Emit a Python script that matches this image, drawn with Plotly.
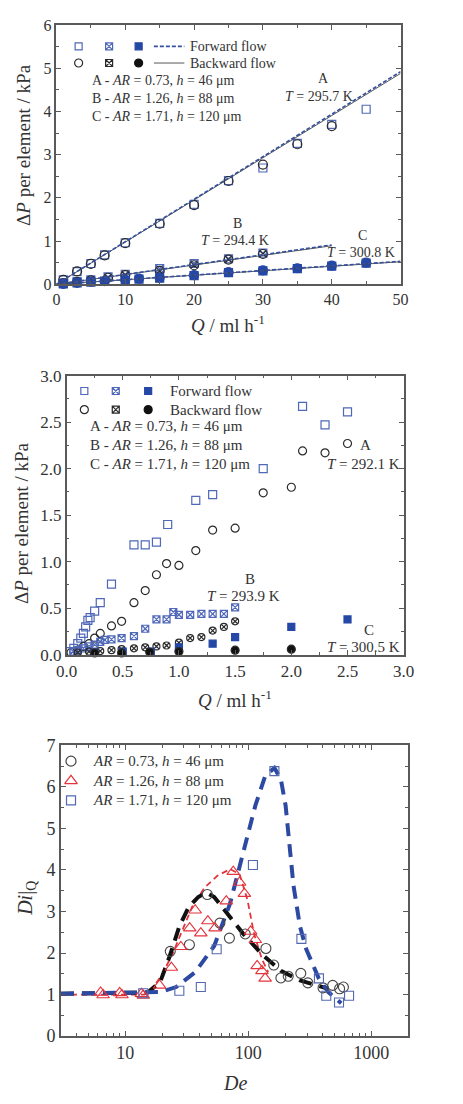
import math
import plotly.graph_objects as go

# ---------------- Panel 1 data ----------------
p1_A_q_fwd = [1, 3, 5, 7, 10, 15, 20, 25, 30, 35, 40, 45]
p1_A_fwd = [0.10, 0.29, 0.48, 0.68, 0.96, 1.41, 1.85, 2.40, 2.69, 3.26, 3.70, 4.05]
p1_A_q_bwd = [1, 3, 5, 7, 10, 15, 20, 25, 30, 35, 40]
p1_A_bwd = [0.10, 0.30, 0.47, 0.67, 0.95, 1.40, 1.83, 2.39, 2.77, 3.24, 3.66]
p1_B_q = [1, 3, 5, 7.5, 10, 15, 20, 25, 30]
p1_B_fwd = [0.03, 0.06, 0.10, 0.17, 0.23, 0.36, 0.48, 0.59, 0.72]
p1_B_bwd = [0.02, 0.05, 0.09, 0.15, 0.21, 0.31, 0.44, 0.57, 0.70]
p1_C_q = [1, 3, 5, 7, 10, 12, 15, 20, 25, 30, 35, 40, 45]
p1_C_fwd = [0.01, 0.03, 0.05, 0.07, 0.09, 0.12, 0.14, 0.20, 0.27, 0.31, 0.36, 0.42, 0.49]
p1_C_bwd = [0.01, 0.03, 0.06, 0.07, 0.10, 0.13, 0.15, 0.21, 0.28, 0.32, 0.37, 0.43, 0.50]
# linear fits
p1_fitA_q = [0, 50]
p1_fitA_fwd = [0.0, 4.92]
p1_fitA_bwd = [0.0, 4.88]
p1_fitB_q = [0, 40]
p1_fitB_fwd = [0.0, 0.91]
p1_fitB_bwd = [0.0, 0.89]
p1_fitC_q = [0, 50]
p1_fitC_fwd = [0.0, 0.53]
p1_fitC_bwd = [0.0, 0.52]

# ---------------- Panel 2 data ----------------
p2_A_q_fwd = [0.03, 0.065, 0.10, 0.127, 0.15, 0.17, 0.19, 0.21, 0.25, 0.30, 0.40, 0.60, 0.70,
              0.80, 0.90, 1.15, 1.30, 1.75, 2.10, 2.30, 2.50]
p2_A_fwd = [0.035, 0.07, 0.12, 0.18, 0.23, 0.30, 0.37, 0.40, 0.47, 0.56, 0.76, 1.18, 1.18,
            1.21, 1.40, 1.66, 1.72, 2.00, 2.67, 2.47, 2.61]
p2_A_q_bwd = [0.04, 0.10, 0.15, 0.20, 0.25, 0.30, 0.40, 0.49, 0.60, 0.70, 0.80, 0.89, 1.00,
              1.15, 1.30, 1.50, 1.75, 2.00, 2.10, 2.30, 2.50]
p2_A_bwd = [0.025, 0.05, 0.09, 0.12, 0.18, 0.23, 0.31, 0.36, 0.56, 0.69, 0.86, 0.98, 0.96,
            1.12, 1.34, 1.36, 1.74, 1.80, 2.19, 2.17, 2.27]
p2_B_q_fwd = [0.06, 0.10, 0.15, 0.20, 0.25, 0.30, 0.34, 0.40, 0.49, 0.60, 0.70, 0.80, 0.89,
              0.95, 1.00, 1.10, 1.20, 1.30, 1.40, 1.50]
p2_B_fwd = [0.035, 0.05, 0.07, 0.09, 0.11, 0.14, 0.16, 0.165, 0.18, 0.20, 0.28, 0.38, 0.38,
            0.46, 0.43, 0.43, 0.44, 0.44, 0.44, 0.51]
p2_B_q_bwd = [0.10, 0.20, 0.30, 0.40, 0.49, 0.60, 0.70, 0.80, 0.89, 1.00, 1.10, 1.20, 1.30, 1.40, 1.50]
p2_B_bwd = [0.025, 0.035, 0.04, 0.05, 0.06, 0.07, 0.08, 0.09, 0.10, 0.13, 0.18, 0.19, 0.26, 0.30, 0.36]
p2_C_q_fwd = [0.25, 0.50, 0.75, 1.00, 1.30, 1.50, 2.00, 2.50]
p2_C_fwd = [0.025, 0.035, 0.035, 0.08, 0.12, 0.19, 0.30, 0.38]
p2_C_q_bwd = [0.25, 0.49, 0.74, 1.00, 1.50, 2.00]
p2_C_bwd = [0.02, 0.02, 0.03, 0.035, 0.05, 0.06]

# ---------------- Panel 3 data ----------------
p3_circ_de = [23.2, 33.2, 46.4, 58.7, 70.2, 94.4, 139, 161, 184, 211, 267, 305, 405, 485, 552, 593]
p3_circ_di = [2.04, 2.20, 3.41, 2.72, 2.36, 2.46, 2.11, 1.71, 1.40, 1.44, 1.51, 1.28, 1.16, 1.22, 1.14, 1.18]
p3_tri_de = [6.3, 6.6, 9.0, 9.4, 13.5, 14.0, 19.0, 23.7, 28.3, 33.4, 37.0, 41.1, 46.9, 53.7,
             66.2, 75.4, 84.9, 92.9, 104.5, 114, 118, 129, 137]
p3_tri_di = [1.05, 0.99, 1.04, 0.99, 1.02, 0.98, 1.22, 1.65, 2.15, 2.60, 3.03, 2.48, 2.77, 2.60,
             3.25, 3.96, 3.70, 3.43, 2.52, 2.32, 1.69, 1.57, 1.39]
p3_sq_de = [14.0, 27.5, 41.1, 55.3, 109, 163, 270, 375, 430, 546, 659]
p3_sq_di = [1.03, 1.09, 1.18, 2.09, 4.12, 6.38, 2.34, 1.39, 0.97, 0.81, 0.97]
# fitted curves
p3_fit_black_de = [3, 15.2, 19.2, 23, 27.5, 32.8, 39.2, 45.5, 52.8, 67, 90, 129, 184, 263, 353, 447]
p3_fit_black_di = [1.02, 1.05, 1.30, 1.93, 2.64, 3.11, 3.35, 3.46, 3.35, 2.95, 2.48, 1.97, 1.57, 1.34, 1.22, 1.14]
p3_fit_red_de = [3, 14.3, 17, 20.4, 24.4, 29.2, 34.9, 44.2, 56, 71, 85, 98.6, 111, 129, 145]
p3_fit_red_di = [1.0, 1.0, 1.18, 1.54, 2.0, 2.56, 3.11, 3.58, 3.86, 4.02, 3.90, 3.27, 2.48, 1.85, 1.54]
p3_fit_blue_de = [3, 19.2, 25.9, 37, 52.8, 71, 90, 114, 137, 163, 184, 201, 233, 263, 296, 375, 447, 569]
p3_fit_blue_di = [1.02, 1.06, 1.18, 1.54, 2.17, 3.19, 4.37, 5.55, 6.26, 6.46, 6.18, 5.55, 3.62, 2.64, 2.09, 1.38, 1.06, 0.79]

# ---------------- Layout geometry ----------------
W, H = 463, 1104
P1 = (47.7, 409.0, 15.3, 279.3)     # left, right, top, bottom (px)
P2 = (58.3, 412.3, 372.3, 656.7)
P3 = (52.3, 416.3, 749.0, 1045.0)
R1 = ([0, 50], [0, 6])
R2 = ([0, 3], [0, 3])
R3 = ([0.476, 3.294], [0, 7])

SERIF = "Liberation Serif, Times New Roman, DejaVu Serif, serif"
TXT = "#333333"
AX = "#5a5a5a"
BLUE_OPEN = "#4f68b8"
BLUE_FILL = "#2547a5"
BLACK = "#2a2a2a"


def dom(p):
    return [p[0] / W, p[1] / W], [1 - p[3] / H, 1 - p[2] / H]


def to_data(p, r, x, y, logx=False):
    fx = (x - p[0]) / (p[1] - p[0])
    fy = (p[3] - y) / (p[3] - p[2])
    dx = r[0][0] + fx * (r[0][1] - r[0][0])
    dy = r[1][0] + fy * (r[1][1] - r[1][0])
    if logx:
        dx = 10 ** dx
    return dx, dy


fig = go.Figure()

def sc(x, y, ax, sym, color, size, fill=None, lw=1.2):
    fig.add_trace(go.Scatter(
        x=x, y=y, mode="markers", xaxis="x" + ax, yaxis="y" + ax, showlegend=False,
        cliponaxis=False,
        marker=dict(symbol=sym, size=size, color=fill if fill else color,
                    line=dict(color=color, width=lw))))

def ln(x, y, ax, color, width, dash):
    fig.add_trace(go.Scatter(
        x=x, y=y, mode="lines", xaxis="x" + ax, yaxis="y" + ax, showlegend=False,
        line=dict(color=color, width=width, dash=dash)))

# ---- panel 1 ----
sc(p1_A_q_fwd, p1_A_fwd, "", "square-open", BLUE_OPEN, 8)
sc(p1_A_q_bwd, p1_A_bwd, "", "circle-open", BLACK, 9)
sc(p1_B_q, p1_B_fwd, "", "square-x-open", BLUE_OPEN, 8)
sc(p1_B_q, p1_B_bwd, "", "circle-x-open", BLACK, 9)
sc(p1_C_q, p1_C_fwd, "", "square", BLUE_FILL, 8, fill=BLUE_FILL)
sc(p1_C_q, p1_C_bwd, "", "circle", BLUE_FILL, 9, fill=BLUE_FILL)
for qq, fw, bw in [(p1_fitA_q, p1_fitA_fwd, p1_fitA_bwd),
                   (p1_fitB_q, p1_fitB_fwd, p1_fitB_bwd),
                   (p1_fitC_q, p1_fitC_fwd, p1_fitC_bwd)]:
    ln(qq, bw, "", "#444444", 0.9, "solid")
    ln(qq, fw, "", "#34509f", 1.6, "4px,2px")

# ---- panel 2 ----
sc(p2_A_q_fwd, p2_A_fwd, "2", "square-open", BLUE_OPEN, 8)
sc(p2_A_q_bwd, p2_A_bwd, "2", "circle-open", BLACK, 8)
sc(p2_B_q_fwd, p2_B_fwd, "2", "square-x-open", BLUE_OPEN, 7)
sc(p2_B_q_bwd, p2_B_bwd, "2", "circle-x-open", BLACK, 7)
sc(p2_C_q_fwd, p2_C_fwd, "2", "square", BLUE_FILL, 7, fill=BLUE_FILL)
sc(p2_C_q_bwd, p2_C_bwd, "2", "circle", BLACK, 8, fill="#111111")

# ---- panel 3 ----
ln(p3_fit_red_de, p3_fit_red_di, "3", "#e3343c", 1.8, "6px,4px")
ln(p3_fit_black_de, p3_fit_black_di, "3", "#111111", 4, "13px,8px")
ln(p3_fit_blue_de, p3_fit_blue_di, "3", "#2d4aa3", 4, "13px,8px")
sc(p3_circ_de, p3_circ_di, "3", "circle-open", "#444444", 10, lw=1.1)
sc(p3_tri_de, p3_tri_di, "3", "triangle-up-open", "#e3343c", 11, lw=1.1)
sc(p3_sq_de, p3_sq_di, "3", "square-open", "#5468b0", 9, lw=1.1)

# ---------------- Legend keys (custom, in-plot) ----------------
def key(p, r, ax, x, y, sym, color, size, fill=None, logx=False):
    dx, dy = to_data(p, r, x, y, logx)
    sc([dx], [dy], ax, sym, color, size, fill=fill)

def keyline(p, r, ax, x0, x1, y, color, width, dash):
    a = to_data(p, r, x0, y)
    b = to_data(p, r, x1, y)
    ln([a[0], b[0]], [a[1], b[1]], ax, color, width, dash)

# panel 1 keys
key(P1, R1, "", 71, 37, "square-open", BLUE_OPEN, 7)
key(P1, R1, "", 103, 37, "square-x-open", BLUE_OPEN, 7)
key(P1, R1, "", 134, 37, "square", BLUE_FILL, 7, fill=BLUE_FILL)
keyline(P1, R1, "", 150, 182, 37, "#34509f", 1.6, "4px,2px")
key(P1, R1, "", 71, 54, "circle-open", BLACK, 8)
key(P1, R1, "", 103, 54, "square-x-open", BLACK, 7)
key(P1, R1, "", 134, 54, "circle", "#111111", 8, fill="#111111")
keyline(P1, R1, "", 150, 182, 54, "#444444", 0.9, "solid")
# panel 2 keys
key(P2, R2, "2", 77, 388, "square-open", BLUE_OPEN, 7)
key(P2, R2, "2", 110, 388, "square-x-open", BLUE_OPEN, 7)
key(P2, R2, "2", 144, 388, "square", BLUE_FILL, 7, fill=BLUE_FILL)
key(P2, R2, "2", 77, 407, "circle-open", BLACK, 8)
key(P2, R2, "2", 110, 407, "square-x-open", BLACK, 7)
key(P2, R2, "2", 144, 407, "circle", "#111111", 8, fill="#111111")
# panel 3 keys
key(P3, R3, "3", 63, 765, "circle-open", "#444444", 10, logx=True)
key(P3, R3, "3", 63, 785, "triangle-up-open", "#e3343c", 11, logx=True)
key(P3, R3, "3", 63, 805, "square-open", "#5468b0", 9, logx=True)

# ---------------- Axes ----------------
def axis(domain, rng, dtick, minor_dtick, size, fmt=None, typ="linear", tickvals=None, minor_vals=None):
    d = dict(domain=domain, range=rng, type=typ, showgrid=False, zeroline=False,
             showline=True, linecolor=AX, linewidth=1.5, mirror="allticks",
             ticks="inside", ticklen=5, tickwidth=1.2, tickcolor=AX,
             tickfont=dict(family=SERIF, size=size, color=TXT),
             minor=dict(ticks="inside", ticklen=3, tickwidth=1, tickcolor=AX))
    if tickvals is not None:
        d["tickvals"] = tickvals
    else:
        d["dtick"] = dtick
        d["tick0"] = 0
    if minor_vals is not None:
        d["minor"]["tickvals"] = minor_vals
    elif minor_dtick is not None:
        d["minor"]["dtick"] = minor_dtick
    if fmt:
        d["tickformat"] = fmt
    return d

x1d, y1d = dom(P1)
x2d, y2d = dom(P2)
x3d, y3d = dom(P3)
minor_log = [m * 10 ** e for e in range(0, 4) for m in range(2, 10) if 3 <= m * 10 ** e <= 2000]

layout = dict(
    width=W, height=H, margin=dict(l=0, r=0, t=0, b=0),
    paper_bgcolor="white", plot_bgcolor="white", showlegend=False,
    xaxis=axis(x1d, R1[0], 10, 5, 16) | dict(anchor="y"),
    yaxis=axis(y1d, R1[1], 1, 0.5, 16) | dict(anchor="x"),
    xaxis2=axis(x2d, R2[0], 0.5, 0.25, 17, ".1f") | dict(anchor="y2"),
    yaxis2=axis(y2d, R2[1], 0.5, 0.25, 17, ".1f") | dict(anchor="x2"),
    xaxis3=axis(x3d, R3[0], None, None, 18, typ="log", tickvals=[10, 100, 1000],
                minor_vals=minor_log) | dict(anchor="y3"),
    yaxis3=axis(y3d, R3[1], 1, 0.5, 18) | dict(anchor="x3"),
)
fig.update_layout(**layout)

# ---------------- Text ----------------
def txt(x, y, s, size, xanchor="center", angle=0):
    fig.add_annotation(x=x / W, y=1 - y / H, xref="paper", yref="paper", text=s,
                       showarrow=False, xanchor=xanchor, yanchor="middle", textangle=angle,
                       font=dict(family=SERIF, size=size, color=TXT))

# panel 1
txt(186, 37, "Forward flow", 14, "left")
txt(186, 54, "Backward flow", 14, "left")
txt(83, 72, "A - <i>AR</i> = 0.73, <i>h</i> = 46 μm", 14, "left")
txt(83, 90, "B - <i>AR</i> = 1.26, <i>h</i> = 88 μm", 14, "left")
txt(83, 108, "C - <i>AR</i> = 1.71, <i>h</i> = 120 μm", 14, "left")
txt(328, 70, "A", 14)
txt(323, 88, "<i>T</i> = 295.7 K", 14)
txt(238, 217, "B", 14)
txt(235, 235, "<i>T</i> = 294.4 K", 14)
txt(369, 230, "C", 14)
txt(367, 247, "<i>T</i> = 300.8 K", 14)
txt(13, 137, "Δ<i>P</i> per element / kPa", 19, angle=-90)
txt(228, 320, "<i>Q</i> / ml h<sup>-1</sup>", 19)

# panel 2
txt(165, 388, "Forward flow", 15, "left")
txt(165, 407, "Backward flow", 15, "left")
txt(81, 424, "A - <i>AR</i> = 0.73, <i>h</i> = 46 μm", 15, "left")
txt(81, 443, "B - <i>AR</i> = 1.26, <i>h</i> = 88 μm", 15, "left")
txt(81, 462, "C - <i>AR</i> = 1.71, <i>h</i> = 120 μm", 15, "left")
txt(372, 443, "A", 15)
txt(370, 462, "<i>T</i> = 292.1 K", 15)
txt(251, 579, "B", 15)
txt(244, 597, "<i>T</i> = 293.9 K", 15)
txt(376, 631, "C", 15)
txt(370, 649, "<i>T</i> = 300.5 K", 15)
txt(11, 522, "Δ<i>P</i> per element / kPa", 19, angle=-90)
txt(235, 702, "<i>Q</i> / ml h<sup>-1</sup>", 19)

# panel 3
txt(84, 765, "<i>AR</i> = 0.73, <i>h</i> = 46 μm", 15, "left")
txt(84, 785, "<i>AR</i> = 1.26, <i>h</i> = 88 μm", 15, "left")
txt(84, 805, "<i>AR</i> = 1.71, <i>h</i> = 120 μm", 15, "left")
txt(16, 905, "<i>Di</i>|<sub>Q</sub>", 20, angle=-90)
txt(235, 1093, "<i>De</i>", 20)

fig.write_html("out.html")
